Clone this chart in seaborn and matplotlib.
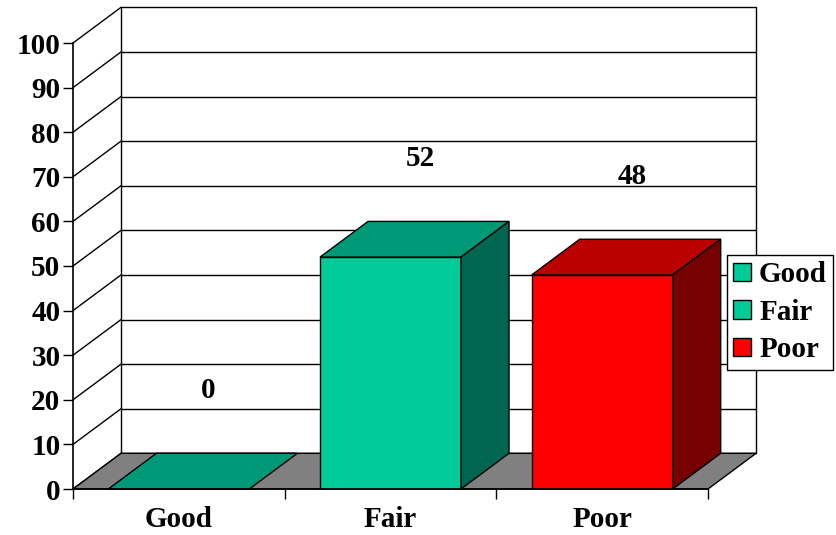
import matplotlib
matplotlib.use("Agg")
from matplotlib import pyplot as plt
from matplotlib.patches import Polygon, Patch
import seaborn as sns
import pandas as pd

# data
categories = ["Good", "Fair", "Poor"]
values = [0, 52, 48]
front_colors = ["#00CC99", "#00CC99", "#FF0000"]
top_colors = ["#009977", "#009977", "#BB0000"]
side_colors = ["#006650", "#006650", "#770000"]
yticks = list(range(0, 101, 10))

sns.set_theme(style="white")
plt.rcParams['font.family'] = ['Liberation Serif', 'DejaVu Serif']
plt.rcParams['font.weight'] = 'bold'
plt.rcParams['text.color'] = 'black'

fig = plt.figure(figsize=(8.37, 5.35), dpi=100)
ax = fig.add_axes([73/837, 46/535, 635/837, 446/535])

df = pd.DataFrame({"cat": categories, "val": values})
dx, dy = 0.227, 8.0   # depth of the 3d box (x in categories, y in value units)
bw = 0.666
x0, x1 = -0.5, len(categories) - 0.5
fs = 21

# back wall + left wall gridlines
for v in yticks:
    ax.plot([x0 + dx, x1 + dx], [v + dy, v + dy], color="black", lw=1,
            clip_on=False, zorder=1)
    ax.plot([x0, x0 + dx], [v, v + dy], color="black", lw=1,
            clip_on=False, zorder=1)
for xe in (x0 + dx, x1 + dx):
    ax.plot([xe, xe], [dy, 100 + dy], color="black", lw=1, clip_on=False, zorder=1)

# floor
ax.add_patch(Polygon([(x0, 0), (x1, 0), (x1 + dx, dy), (x0 + dx, dy)],
                     facecolor="#808080", edgecolor="black", lw=1,
                     clip_on=False, zorder=2))

sns.barplot(data=df, x="cat", y="val", hue="cat", palette=front_colors,
            saturation=1, width=bw, edgecolor="black", linewidth=1,
            legend=False, ax=ax, zorder=3)

# top and side faces
for i, v in enumerate(values):
    l, r = i - bw/2, i + bw/2
    ax.add_patch(Polygon([(l, v), (r, v), (r + dx, v + dy), (l + dx, v + dy)],
                         facecolor=top_colors[i], edgecolor="black", lw=1,
                         clip_on=False, zorder=3))
    if v > 0:
        ax.add_patch(Polygon([(r, 0), (r + dx, dy), (r + dx, v + dy), (r, v)],
                             facecolor=side_colors[i], edgecolor="black", lw=1,
                             clip_on=False, zorder=3))
    ax.text(i + 0.14, v + 22, str(v), ha="center", va="center",
            fontsize=fs, fontweight="bold", color="black")

ax.set_xlim(x0, x1)
ax.set_ylim(0, 100)
ax.set_xlabel("")
ax.set_ylabel("")
ax.set_yticks(yticks)
ax.set_xticks(range(len(categories)))
ax.set_xticklabels(categories)
ax.set_xticks([x0 + k for k in range(len(categories) + 1)], minor=True)
ax.tick_params(axis="y", left=True, length=7, width=1, color="black", pad=2,
               labelsize=fs, labelcolor="black")
ax.tick_params(axis="x", which="major", bottom=True, length=0, pad=12,
               labelsize=fs, labelcolor="black")
ax.tick_params(axis="x", which="minor", bottom=True, length=7, width=1,
               color="black")
for s in ("top", "right"):
    ax.spines[s].set_visible(False)
for s in ("left", "bottom"):
    ax.spines[s].set_color("black")
    ax.spines[s].set_linewidth(1.2)
    ax.spines[s].set_zorder(4)
ax.patch.set_visible(False)

handles = [Patch(facecolor=c, edgecolor="black", lw=1) for c in front_colors]
leg = fig.legend(handles, categories, loc="upper left",
                 bbox_to_anchor=(727/837, (535 - 255)/535),
                 bbox_transform=fig.transFigure, borderaxespad=0,
                 prop={"weight": "bold", "size": fs}, fancybox=False,
                 framealpha=1, edgecolor="black", handlelength=0.6,
                 handleheight=0.6, handletextpad=0.28, labelspacing=0.36,
                 borderpad=0.22, labelcolor="black")
leg.get_frame().set_linewidth(1)

fig.savefig("out.png", dpi=100)
